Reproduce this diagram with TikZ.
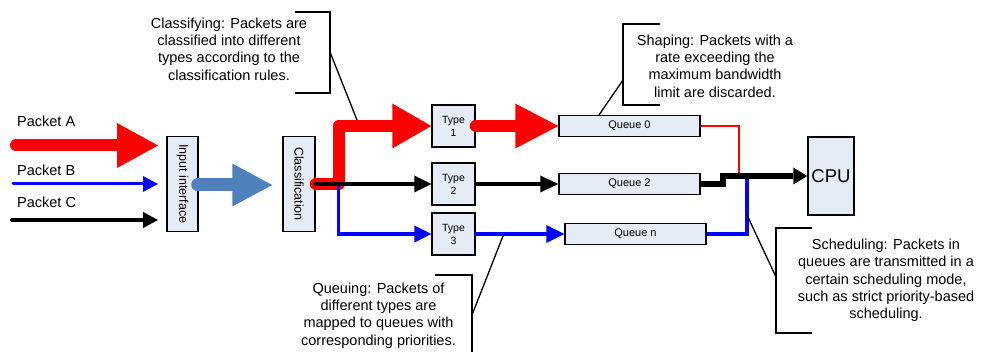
\documentclass[tikz,border=0pt]{standalone}
\usepackage{fontspec}
\usepackage{graphicx}
\setmainfont{Liberation Sans}
\usetikzlibrary{arrows.meta,calc}
\definecolor{boxfill}{RGB}{230,236,245}
\definecolor{steel}{RGB}{79,129,189}

\begin{document}
\begin{tikzpicture}[x=1pt,y=-1pt,
  box/.style={draw, line width=1.5pt, fill=boxfill, inner sep=0pt, align=center},
  lbl/.style={inner sep=0pt, anchor=base west, font=\fontsize{14.5}{17}\selectfont},
  note/.style={inner sep=0pt, align=center, font=\fontsize{14.5}{17.3}\selectfont},
  callout/.style={line width=1.4pt},
  leader/.style={line width=1.3pt},
  fatarrow/.style={line width=12pt, line cap=round, line join=round,
    -{Triangle[length=#1,width=45pt,line width=0pt]}},
  flow/.style={line width=#1, line cap=round,
    -{Triangle[length=17pt,width=17pt,line width=0pt]}},
]
\useasboundingbox (0,0) rectangle (981,352);

% ---- boxes ----
\node[box, minimum width=31pt, minimum height=95pt] (inp) at (182.5,184)
  {\rotatebox{-90}{\fontsize{12.5}{14}\selectfont Input interface}};
\node[box, minimum width=32pt, minimum height=95pt] (cls) at (299,184)
  {\rotatebox{-90}{\fontsize{12.5}{14}\selectfont Classification}};
\node[box, minimum width=43pt, minimum height=42pt, font=\fontsize{10.5}{13}\selectfont] (t1) at (453.5,126) {Type\\1};
\node[box, minimum width=43pt, minimum height=42pt, font=\fontsize{10.5}{13}\selectfont] (t2) at (453.5,184) {Type\\2};
\node[box, minimum width=43pt, minimum height=42pt, font=\fontsize{10.5}{13}\selectfont] (t3) at (453.5,234) {Type\\3};
\node[box, minimum width=141pt, minimum height=21pt, font=\fontsize{11}{13}\selectfont] (q0) at (629.5,126) {Queue 0};
\node[box, minimum width=141pt, minimum height=21pt, font=\fontsize{11}{13}\selectfont] (q2) at (629.5,184) {Queue 2};
\node[box, minimum width=141pt, minimum height=21pt, font=\fontsize{11}{13}\selectfont] (qn) at (635.5,234) {Queue n};
\node[box, minimum width=46pt, minimum height=78pt, font=\fontsize{18.5}{20}\selectfont] (cpu) at (831,176) {CPU};

% ---- incoming packets ----
\node[lbl] (la) at (17,127) {Packet A};
\node[lbl] (lb) at (17,176) {Packet B};
\node[lbl] (lc) at (17,208) {Packet C};
\coordinate (pa0) at (16,145.5);  \coordinate (pa1) at (158,145.5);
\coordinate (pb0) at (13,184);    \coordinate (pb1) at (158,184);
\coordinate (pc0) at (12,220);    \coordinate (pc1) at (158,220);
\draw[red, fatarrow=41pt] (pa0) -- (pa1);
\draw[blue, line width=3pt, line cap=round, -{Triangle[length=15pt,width=16pt,line width=0pt]}] (pb0) -- (pb1);
\draw[black, line width=4pt, line cap=round, -{Triangle[length=15pt,width=16pt,line width=0pt]}] (pc0) -- (pc1);

% ---- input interface to classification ----
\draw[steel, line width=13pt, line cap=round,
  -{Triangle[length=40pt,width=43pt,line width=0pt]}]
  ($(inp.east)+(-1,1)$) -- ($(cls.west)+(-10,1)$);

% ---- classification to types ----
\draw[red, fatarrow=39pt] (cls.east) -- ++(23,0) |- (t1.west);
\draw[blue, line width=3.5pt, line cap=round,
  -{Triangle[length=17pt,width=17pt,line width=0pt]}]
  (cls.east) -- ++(22.5,0) |- (t3.west);
\draw[black, flow=4.5pt] (cls.east) -- (t2.west);

% ---- types to queues ----
\draw[red, line width=12pt, line cap=round,
  -{Triangle[length=43pt,width=45pt,line width=0pt]}] (t1.east) -- (q0.west);
\draw[black, line width=4pt, line cap=round,
  -{Triangle[length=18pt,width=17pt,line width=0pt]}] (t2.east) -- (q2.west);
\draw[blue, line width=3.5pt, line cap=round,
  -{Triangle[length=18pt,width=18pt,line width=0pt]}] (t3.east) -- (qn.west);

% ---- queues to CPU ----
\coordinate (jr) at (739,176);
\coordinate (jb) at (747,176);
\draw[red, line width=1.5pt] (q0.east) -| (jr);
\draw[blue, line width=3.5pt] (qn.east) -| (jb);
\draw[black, line width=5.5pt, -{Triangle[length=14pt,width=17pt,line width=0pt]}]
  ($(q2.east)+(-2,0)$) -- ++(24,0) |- (cpu.west);

% ---- callouts ----
\node[note] (ncls) at (229,49) {Classifying: Packets are\\classified into different\\types according to the\\classification rules.};
\draw[callout] (295,12) -- (330,12) -- (330,93) -- (295,93);
\coordinate (kcls) at (330,52);  \coordinate (ecls) at (357,120);
\draw[leader] (kcls) -- (ecls);

\node[note] (nshp) at (715,66) {Shaping: Packets with a\\rate exceeding the\\maximum bandwidth\\limit are discarded.};
\draw[callout] (660,24) -- (623,24) -- (623,105) -- (660,105);
\coordinate (kshp) at (623,80);  \coordinate (eshp) at (599,115);
\draw[leader] (kshp) -- (eshp);

\node[note] (nque) at (378.5,315.5) {Queuing: Packets of\\different types are\\mapped to queues with\\corresponding priorities.};
\draw[callout] (435,275) -- (472,275) -- (472,352);
\coordinate (kque) at (472,315);  \coordinate (eque) at (503,236);
\draw[leader] (kque) -- (eque);

\node[note] (nsch) at (886,280.5) {Scheduling: Packets in\\queues are transmitted in a\\certain scheduling mode,\\such as strict priority-based\\scheduling.};
\draw[callout] (812,228) -- (776,228) -- (776,333) -- (812,333);
\coordinate (ksch) at (776,277);  \coordinate (esch) at (747,215);
\draw[leader] (ksch) -- (esch);
\end{tikzpicture}
\end{document}
